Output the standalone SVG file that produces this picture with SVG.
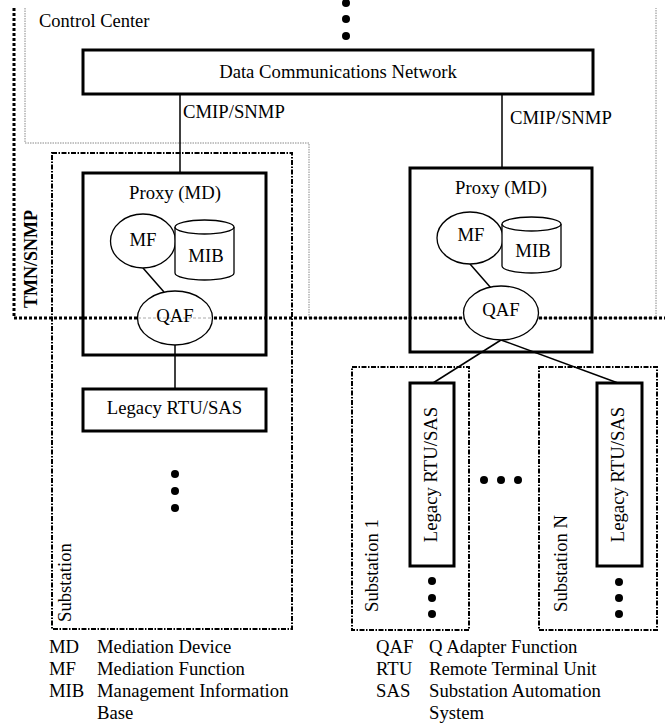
<svg xmlns="http://www.w3.org/2000/svg" width="665" height="723" viewBox="0 0 665 723">
<style>
text{font-family:"Liberation Serif","Times New Roman",serif;font-size:18.7px;fill:#000}
.box{fill:#fff;stroke:#000;stroke-width:3}
.frame{fill:none;stroke:#000;stroke-width:3}
.ell{fill:#fff;stroke:#000;stroke-width:1.3}
.sub{fill:none;stroke:#000;stroke-width:2;stroke-dasharray:5 1.5 1.5 1.5}
.cc{fill:none;stroke:#888;stroke-width:1;stroke-dasharray:1.5 1}
.tmn{fill:none;stroke:#000;stroke-width:3;stroke-dasharray:3 2}
.con{stroke:#000;stroke-width:1.5;fill:none}
.c{text-anchor:middle}
</style>
<g id="control-center">
<path class="cc" d="M25,8 V143 H309 V318 H656 V8"/>
<text x="39" y="27" style="font-size:18.5px">Control Center</text>
</g>
<g id="tmn-boundary">
<path class="tmn" d="M14,8 V318 H665"/>
<text transform="translate(37,308) rotate(-90)" style="font-weight:bold;font-size:18px">TMN/SNMP</text>
</g>
<g id="substation">
<rect class="sub" x="52" y="153" width="240" height="476"/>
<text transform="translate(71,622) rotate(-90)">Substation</text>
</g>
<g id="substation-1">
<rect class="sub" x="352" y="367" width="117" height="263"/>
<text transform="translate(378,612) rotate(-90)">Substation 1</text>
</g>
<g id="substation-n">
<rect class="sub" x="539" y="367" width="118" height="263"/>
<text transform="translate(567,612) rotate(-90)">Substation N</text>
</g>
<g id="connectors">
<line class="con" x1="180" y1="94" x2="180" y2="173"/>
<line class="con" x1="502" y1="94" x2="502" y2="168"/>
<line class="con" x1="175" y1="345" x2="175" y2="389"/>
<line class="con" x1="143" y1="268" x2="164" y2="292"/>
<line class="con" x1="470" y1="264" x2="491" y2="288"/>
<line class="con" x1="501" y1="340" x2="433" y2="383"/>
<line class="con" x1="501" y1="340" x2="618" y2="383"/>
<text x="183" y="118">CMIP/SNMP</text>
<text x="510" y="124">CMIP/SNMP</text>
</g>
<g id="dcn">
<rect class="box" x="83" y="50" width="510" height="44"/>
<text class="c" x="338" y="78">Data Communications Network</text>
</g>
<g id="proxy-left">
<rect class="frame" x="83" y="173" width="183" height="182"/>
<text class="c" x="175" y="199">Proxy (MD)</text>
</g>
<g id="mf-left">
<ellipse class="ell" cx="143" cy="241" rx="32.5" ry="27"/>
<text class="c" x="143" y="246">MF</text>
</g>
<g id="mib-left">
<path class="ell" d="M175,227 V273 A29.5,7 0 0 0 234,273 V227"/>
<ellipse class="ell" cx="204.5" cy="227" rx="29.5" ry="7"/>
<text class="c" x="206" y="262">MIB</text>
</g>
<g id="qaf-left">
<ellipse class="ell" cx="175" cy="318" rx="37.5" ry="27"/>
<line x1="138" y1="318" x2="212" y2="318" stroke="#aaa" stroke-width="1" stroke-dasharray="3 2"/>
<text class="c" x="175" y="322">QAF</text>
</g>
<g id="legacy-left">
<rect class="box" x="83" y="389" width="183" height="42"/>
<text class="c" x="174.5" y="414">Legacy RTU/SAS</text>
</g>
<g id="proxy-right">
<rect class="frame" x="410" y="168" width="182" height="184"/>
<text class="c" x="501" y="194">Proxy (MD)</text>
</g>
<g id="mf-right">
<ellipse class="ell" cx="470" cy="238" rx="33" ry="26"/>
<text class="c" x="471" y="241">MF</text>
</g>
<g id="mib-right">
<path class="ell" d="M502,224 V266 A29.5,7 0 0 0 561,266 V224"/>
<ellipse class="ell" cx="531.5" cy="224" rx="29.5" ry="7"/>
<text class="c" x="533" y="257">MIB</text>
</g>
<g id="qaf-right">
<ellipse class="ell" cx="501" cy="313" rx="37.5" ry="27"/>
<text class="c" x="501" y="316">QAF</text>
</g>
<g id="legacy-1">
<rect class="box" x="410" y="383" width="44" height="183"/>
<text class="c" transform="translate(437,474.5) rotate(-90)">Legacy RTU/SAS</text>
</g>
<g id="legacy-n">
<rect class="box" x="597" y="383" width="45" height="183"/>
<text class="c" transform="translate(624,474.5) rotate(-90)">Legacy RTU/SAS</text>
</g>
<g id="ellipsis-dots" fill="#000">
<circle cx="346" cy="3" r="4"/><circle cx="346" cy="19" r="4"/><circle cx="346" cy="36" r="4"/>
<circle cx="175" cy="474" r="4"/><circle cx="175" cy="491" r="4"/><circle cx="175" cy="508" r="4"/>
<circle cx="484" cy="480" r="4"/><circle cx="501" cy="480" r="4"/><circle cx="518" cy="480" r="4"/>
<circle cx="432" cy="581" r="4"/><circle cx="432" cy="598" r="4"/><circle cx="432" cy="614" r="4"/>
<circle cx="619" cy="582" r="4"/><circle cx="619" cy="598" r="4"/><circle cx="619" cy="614" r="4"/>
</g>
<g id="legend">
<text x="49" y="653">MD</text><text x="97" y="653">Mediation Device</text>
<text x="49" y="675">MF</text><text x="97" y="675">Mediation Function</text>
<text x="49" y="697">MIB</text><text x="97" y="697">Management Information</text>
<text x="97" y="719">Base</text>
<text x="376" y="653">QAF</text><text x="429" y="653">Q Adapter Function</text>
<text x="376" y="675">RTU</text><text x="429" y="675">Remote Terminal Unit</text>
<text x="376" y="697">SAS</text><text x="429" y="697">Substation Automation</text>
<text x="429" y="719">System</text>
</g>
</svg>
